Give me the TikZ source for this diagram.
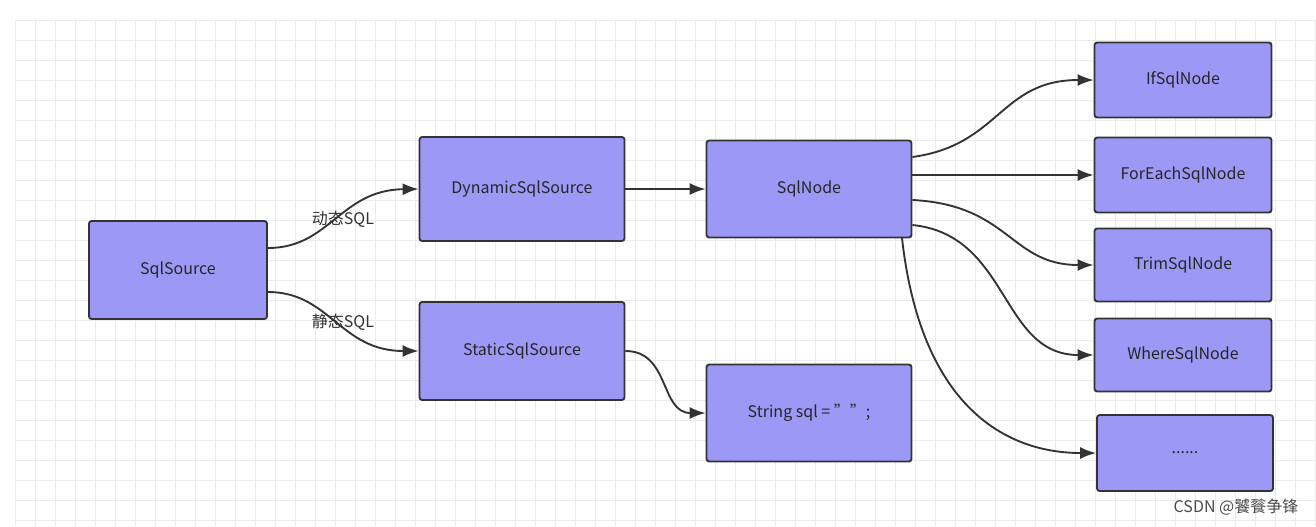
\documentclass[tikz,border=0pt]{standalone}
\usepackage{fontspec}
\setmainfont{Noto Sans CJK SC}
\usetikzlibrary{arrows.meta}
\begin{document}
\begin{tikzpicture}[x=0.75pt,y=-0.75pt,
  box/.style={draw=black!80,line width=1.4pt,fill=blue!40!white!80!violet,rounded corners=2pt,font=\fontsize{12}{14}\selectfont,text=black!85},
  arr/.style={draw=black!80,line width=1.4pt,-{Latex[length=12pt,width=9pt]}},
  lab/.style={font=\fontsize{12}{14}\selectfont,text=black!80}]
\useasboundingbox (0,0) rectangle (1316,526);
\fill[white] (0,0) rectangle (1316,526);
\foreach \x in {15,35,...,1316} \draw[black!8,line width=0.5pt] (\x,20) -- (\x,526);
\foreach \y in {20,40,...,526} \draw[black!8,line width=0.5pt] (15,\y) -- (1316,\y);
\definecolor{bfill}{HTML}{9B99F5}
\tikzset{box/.append style={fill=bfill}}
\node[box,minimum width=178*0.75pt,minimum height=98*0.75pt] (ss) at (178,270) {SqlSource};
\node[box,minimum width=205*0.75pt,minimum height=104*0.75pt] (ds) at (522,189) {DynamicSqlSource};
\node[box,minimum width=205*0.75pt,minimum height=98*0.75pt] (st) at (522,351) {StaticSqlSource};
\node[box,minimum width=205*0.75pt,minimum height=97*0.75pt] (sn) at (809,189) {SqlNode};
\node[box,minimum width=205*0.75pt,minimum height=97*0.75pt] (str) at (809,413) {String sql = "";};
\node[box,minimum width=177*0.75pt,minimum height=75*0.75pt] (if) at (1183,80) {IfSqlNode};
\node[box,minimum width=177*0.75pt,minimum height=75*0.75pt] (fe) at (1183,175) {ForEachSqlNode};
\node[box,minimum width=177*0.75pt,minimum height=73*0.75pt] (tr) at (1183,265) {TrimSqlNode};
\node[box,minimum width=177*0.75pt,minimum height=73*0.75pt] (wh) at (1183,355) {WhereSqlNode};
\node[box,minimum width=176*0.75pt,minimum height=76*0.75pt] (dt) at (1185,453) {......};
\draw[arr] (ss.east|-0,248) .. controls (330,248) and (340,190) .. (ds.west);
\draw[arr] (ss.east|-0,292) .. controls (330,292) and (340,351) .. (st.west);
\node[lab] (l1) at (343,219) {动态SQL};
\node[lab] (l2) at (343,322) {静态SQL};
\draw[arr] (ds.east) -- (sn.west);
\draw[arr] (st.east|-0,351) .. controls (670,351) and (660,413) .. (str.west);
\draw[arr] (sn.east|-0,157) .. controls (1000,145) and (1000,80) .. (if.west);
\draw[arr] (sn.east|-0,175) -- (fe.west);
\draw[arr] (sn.east|-0,200) .. controls (1010,205) and (1010,265) .. (tr.west);
\draw[arr] (sn.east|-0,225) .. controls (1010,235) and (1000,355) .. (wh.west);
\draw[arr] (902,238) .. controls (920,400) and (1000,453) .. (dt.west);
\node[font=\fontsize{12}{14}\selectfont,text=black!70,anchor=east] (wm) at (1303,507) {CSDN @饕餮争锋};
\end{tikzpicture}
\end{document}
